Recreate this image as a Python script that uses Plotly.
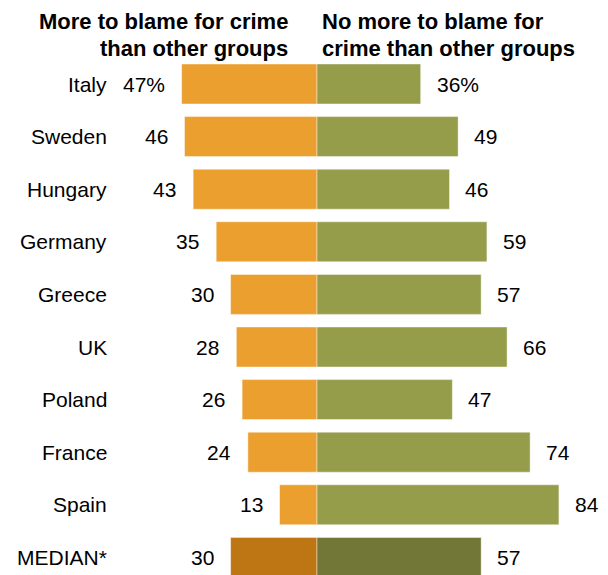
import plotly.graph_objects as go

countries = ["Italy", "Sweden", "Hungary", "Germany", "Greece", "UK", "Poland", "France", "Spain", "MEDIAN*"]
more_blame = [47, 46, 43, 35, 30, 28, 26, 24, 13, 30]
no_more_blame = [36, 49, 46, 59, 57, 66, 47, 74, 84, 57]
left_labels = ["47%", "46", "43", "35", "30", "28", "26", "24", "13", "30"]
right_labels = ["36%", "49", "46", "59", "57", "66", "47", "74", "84", "57"]
header_left = ["More to blame for crime", "than other groups"]
header_right = ["No more to blame for", "crime than other groups"]

ORANGE = "#EA9F2E"
GREEN = "#959D4B"
ORANGE_D = "#BE7614"
GREEN_D = "#727636"

n = len(countries)
ypos = list(range(n))
left_colors = [ORANGE] * (n - 1) + [ORANGE_D]
right_colors = [GREEN] * (n - 1) + [GREEN_D]

FONT = "Liberation Sans, Arial, sans-serif"
OFF = 8  # page body margin offset
W, H = 608, 575
px_per_unit = 2.88
center = 317 - OFF
row0 = 84 - OFF
row_step = 52.6

fig = go.Figure()
fig.add_trace(go.Bar(
    y=ypos, x=[-v for v in more_blame], orientation="h",
    marker=dict(color=left_colors, line=dict(width=0.8, color="rgba(255,255,255,0.55)")),
    width=0.76, hoverinfo="skip", showlegend=False,
))
fig.add_trace(go.Bar(
    y=ypos, x=no_more_blame, orientation="h",
    marker=dict(color=right_colors, line=dict(width=0.8, color="rgba(255,255,255,0.55)")),
    width=0.76, hoverinfo="skip", showlegend=False,
))

name_x = (109 - 317) / px_per_unit
annotations = []
for i in range(n):
    annotations.append(dict(x=name_x, y=i, xref="x", yref="y", text=countries[i],
                            xanchor="right", yanchor="middle", showarrow=False,
                            font=dict(family=FONT, size=21, color="#000")))
    annotations.append(dict(x=-more_blame[i], y=i, xref="x", yref="y", text=left_labels[i],
                            xanchor="right", yanchor="middle", showarrow=False, xshift=-15,
                            font=dict(family=FONT, size=21, color="#000")))
    annotations.append(dict(x=no_more_blame[i], y=i, xref="x", yref="y", text=right_labels[i],
                            xanchor="left", yanchor="middle", showarrow=False, xshift=14,
                            font=dict(family=FONT, size=21, color="#000")))

# header lines: centers in screen pixels
for k, yc in enumerate([21.0, 48.0]):
    yp = 1 - (yc - OFF) / H
    annotations.append(dict(x=(289 - OFF) / W, y=yp, xref="paper", yref="paper",
                            text="<b>" + header_left[k] + "</b>",
                            xanchor="right", yanchor="middle", align="right", showarrow=False,
                            borderpad=0, font=dict(family=FONT, size=22, color="#000")))
    annotations.append(dict(x=(321 - OFF) / W, y=yp, xref="paper", yref="paper",
                            text="<b>" + header_right[k] + "</b>",
                            xanchor="left", yanchor="middle", align="left", showarrow=False,
                            borderpad=0, font=dict(family=FONT, size=22, color="#000")))

fig.update_layout(
    width=W, height=H,
    margin=dict(l=0, r=0, t=0, b=0),
    paper_bgcolor="white", plot_bgcolor="white",
    barmode="overlay",
    xaxis=dict(range=[-center / px_per_unit, (W - center) / px_per_unit], visible=False, fixedrange=True),
    yaxis=dict(range=[(H - row0) / row_step, -row0 / row_step], visible=False, fixedrange=True),
    annotations=annotations,
    showlegend=False,
)

fig.write_html("out.html")
